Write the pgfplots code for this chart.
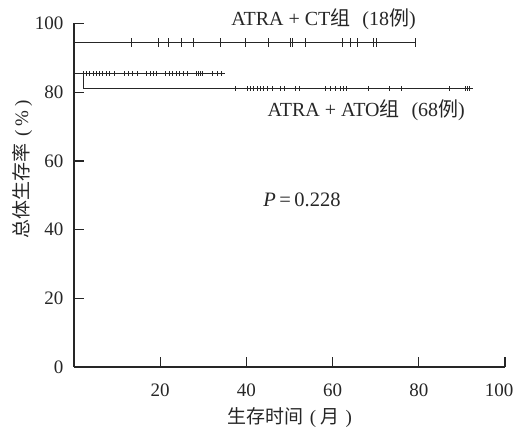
\documentclass[border=0pt]{standalone}
\usepackage{fontspec}
\setmainfont{Liberation Serif}
\newfontfamily\cjk{Noto Sans CJK SC}
\usepackage{pgfplots}
\pgfplotsset{compat=1.18}
\begin{document}
\begin{tikzpicture}[x=1pt,y=1pt]
\path[use as bounding box] (-74,-63) rectangle (442,367);
\begin{axis}[
  at={(0,0)}, anchor=south west,
  scale only axis, width=431pt, height=343.5pt,
  xmin=0, xmax=100, ymin=0, ymax=100,
  axis lines=left, axis line style={-, line width=1.6pt, color=black!85},
  tick style={line width=1.3pt, color=black!85},
  tick align=inside, major tick length=10pt,
  xtick={20,40,60,80,100}, ytick={0,20,40,60,80,100},
  xticklabels={20,40,60,80,\kern-12pt 100},
  font=\fontsize{19}{23}\selectfont,
  /pgf/number format/assume math mode=true,
  ticklabel style={font=\fontsize{19}{23}\selectfont, text=black!85},
  xticklabel style={yshift=-13pt},
  yticklabel style={xshift=-7pt},
  xlabel={{\cjk 生存时间}\hspace{0.35em}(\hspace{0.25em}{\cjk 月}\hspace{0.3em})},
  ylabel={{\cjk 总体生存率}\hspace{0.35em}(\hspace{0.2em}\%\hspace{0.2em})},
  xlabel style={at={(axis description cs:0.5,0)}, anchor=center, yshift=-50.5pt, text=black!85},
  ylabel style={at={(axis description cs:0,0.576)}, anchor=center, yshift=52pt, text=black!85},
  clip=false,
]
% ATRA + CT
\addplot[black!85, line width=1pt, mark=none] coordinates {(0,100)(0,94.4)(79.3,94.4)};
\addplot[black!85, line width=0.9pt, only marks, mark=|, mark size=4.5pt] coordinates {
(13.3,94.4)(19.6,94.4)(21.8,94.4)(25.0,94.4)(27.6,94.4)(33.9,94.4)(39.8,94.4)(45.0,94.4)
(50.2,94.4)(50.6,94.4)(53.7,94.4)(62.3,94.4)(64.2,94.4)(65.7,94.4)(69.4,94.4)(70.2,94.4)(79.3,94.4)};
% ATRA + ATO
\addplot[black!85, line width=1pt, mark=none] coordinates {(0,85.3)(35.0,85.3)};
\addplot[black!85, line width=1pt, mark=none] coordinates {(2.3,85.3)(2.3,81.0)(92.5,81.0)};
\addplot[black!85, line width=0.8pt, only marks, mark=|, mark size=2.5pt] coordinates {
(2.1,85.3)(2.9,85.3)(3.6,85.3)(4.4,85.3)(5.1,85.3)(5.8,85.3)(6.6,85.3)(7.5,85.3)(8.3,85.3)(9.3,85.3)
(11.6,85.3)(12.6,85.3)(13.6,85.3)(14.8,85.3)(16.9,85.3)(17.7,85.3)(18.4,85.3)(19.2,85.3)
(21.3,85.3)(22.1,85.3)(22.9,85.3)(23.7,85.3)(24.5,85.3)(25.3,85.3)(26.2,85.3)
(28.5,85.3)(28.9,85.3)(29.3,85.3)(29.7,85.3)(32.0,85.3)(33.2,85.3)(34.3,85.3)};
\addplot[black!85, line width=0.8pt, only marks, mark=|, mark size=2.5pt] coordinates {
(37.4,81.0)(40.2,81.0)(40.9,81.0)(41.7,81.0)(42.5,81.0)(43.3,81.0)(44.0,81.0)(44.8,81.0)
(46.0,81.0)(47.9,81.0)(48.7,81.0)(51.4,81.0)(52.2,81.0)(58.4,81.0)(59.5,81.0)(60.7,81.0)
(61.9,81.0)(62.6,81.0)(63.2,81.0)(68.4,81.0)(73.1,81.0)(76.0,81.0)(87.0,81.0)(90.8,81.0)(91.3,81.0)(91.8,81.0)};
\node[text=black!85, font=\fontsize{20}{24}\selectfont] at (axis cs:57.9,101.2) {ATRA + CT{\cjk 组}\hspace{0.6em}(18{\cjk 例})};
\node[text=black!85, font=\fontsize{20}{24}\selectfont] at (axis cs:67.8,74.8) {ATRA + ATO{\cjk 组}\hspace{0.6em}(68{\cjk 例})};
\node[text=black!85, font=\fontsize{20.5}{24}\selectfont] at (axis cs:52.9,48.6) {\textit{P}\,=\,0.228};
\end{axis}
\end{tikzpicture}
\end{document}
